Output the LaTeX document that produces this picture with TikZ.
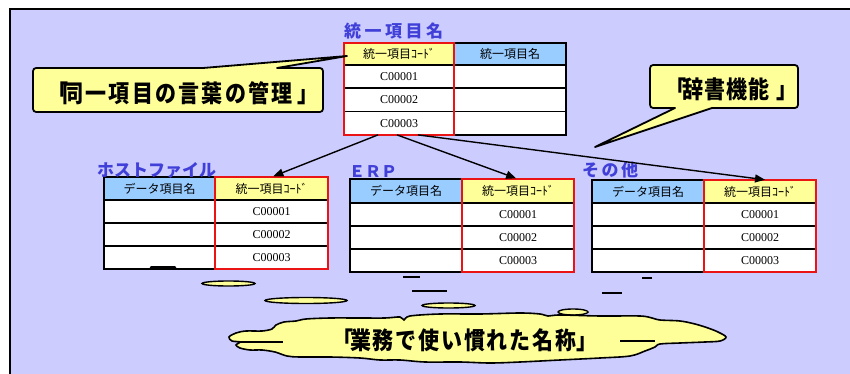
\documentclass[tikz,border=0pt]{standalone}
\usepackage{fontspec}
\newfontfamily\cjk{Noto Sans CJK JP}
\newfontfamily\codefont{Liberation Serif}
\usetikzlibrary{arrows.meta}
\definecolor{bgc}{RGB}{204,204,255}
\definecolor{hyel}{RGB}{255,255,153}
\definecolor{hblue}{RGB}{153,204,255}
\definecolor{lblue}{RGB}{64,64,216}
\definecolor{rbox}{RGB}{235,20,20}
\makeatletter
\def\spaceout#1#2{\def\sp@k{\kern#1}\spaceout@#2\relax}
\def\spaceout@#1{\ifx\relax#1\else#1\sp@k\expandafter\spaceout@\fi}
\makeatother
\tikzset{
 cell/.style={draw=black, line width=1.6pt, inner sep=0pt, outer sep=0pt, anchor=north west, font=\cjk\fontsize{12}{12}\selectfont},
 codecell/.style={cell, fill=white, font=\codefont\fontsize{12}{12}\selectfont},
 redbox/.style={draw=rbox, line width=2.2pt},
 arr/.style={line width=1.4pt, -{Triangle[length=10pt,width=8pt]}, shorten >=2pt},
 tlabel/.style={text=lblue, inner sep=0pt, anchor=base west},
 callout/.style={fill=hyel, draw=black, line width=1.8pt, line join=round},
 ctext/.style={font=\cjk\bfseries\fontsize{21}{21}\selectfont, inner sep=0pt, anchor=west},
 bub/.style={fill=hyel, draw=black, line width=1.4pt},
 blot/.style={draw=black, line width=1.5pt},
}
\newcommand\codeleft[7]{%
 \node[cell, fill=hyel, minimum width=#4, minimum height=#6] (#1-hl) at (#2,#3) {統一項目ｺｰﾄﾞ};
 \node[cell, fill=hblue, minimum width=#5, minimum height=#6] (#1-hr) at (#2+#4,#3) {統一項目名};
 \foreach \i in {1,2,3}{
  \node[codecell, minimum width=#4, minimum height=#7] (#1-l\i) at (#2, #3+#6+\i*#7-#7) {C0000\i};
  \node[cell, fill=white, minimum width=#5, minimum height=#7] (#1-r\i) at (#2+#4, #3+#6+\i*#7-#7) {};
 }
 \draw[redbox] (#1-hl.north west) rectangle (#1-l3.south east);
}
\newcommand\coderight[7]{%
 \node[cell, fill=hblue, minimum width=#4, minimum height=#6] (#1-hl) at (#2,#3) {データ項目名};
 \node[cell, fill=hyel, minimum width=#5, minimum height=#6] (#1-hr) at (#2+#4,#3) {統一項目ｺｰﾄﾞ};
 \foreach \i in {1,2,3}{
  \node[cell, fill=white, minimum width=#4, minimum height=#7] (#1-l\i) at (#2, #3+#6+\i*#7-#7) {};
  \node[codecell, minimum width=#5, minimum height=#7] (#1-r\i) at (#2+#4, #3+#6+\i*#7-#7) {C0000\i};
 }
 \draw[redbox] (#1-hr.north west) rectangle (#1-r3.south east);
}
\begin{document}
\begin{tikzpicture}[x=1pt,y=-1pt]
\useasboundingbox (0,0) rectangle (850,374);
% background panel
\fill[bgc] (10,9) rectangle (856,380);
\draw[line width=2pt] (10,380) -- (10,9) -- (856,9);
% thought bubbles and blots
\filldraw[bub] (228.5,283.5) ellipse [x radius=26.5, y radius=2.5];
\filldraw[bub] (306,300.5) ellipse [x radius=41, y radius=3];
\filldraw[bub] (448.5,305.5) ellipse [x radius=26.5, y radius=2.5];
\filldraw[bub] (573,312) ellipse [x radius=15, y radius=3];
\draw[blot] (403,277) -- (420,277);
\draw[blot, line width=2.5pt] (412,291) -- (447,291);
\draw[blot] (602,293) -- (622,293);
\draw[blot] (642,278) -- (652,278);
% cloud
\filldraw[fill=hyel, draw=black, line width=1.6pt] plot[smooth cycle, tension=0.55] coordinates {
 (229,337) (236,333) (246,331) (262,331) (272,329) (276,325) (284,322) (296,321) (306,319) (330,318)
 (360,318) (385,318) (400,317) (404,320) (410,316) (440,314) (480,314) (520,313) (540,314) (548,316)
 (560,315) (600,316) (640,316) (652,318) (660,320) (680,321) (695,324) (708,328) (718,332) (726,337)
 (720,341) (705,342) (680,343) (660,344) (655,347) (645,351) (630,356) (600,358) (560,360) (520,362)
 (490,363) (460,362) (425,362) (400,360) (380,360) (360,358) (330,357) (300,357) (287,356) (275,352)
 (262,350) (250,350) (240,348) (236,345) (240,342) (232,341)};
\draw[blot] (240,342) -- (283,342);
\draw[blot] (620,341) -- (655,341);
\node[ctext] (cloudtext) at (332,340.5) {\scalebox{1}[1.15]{「\kern-3pt\spaceout{1.8pt}{業務で使い慣れた名称}\kern-2pt 」}};
% tables
\codeleft{top}{344}{43}{110}{112}{22}{23.3}
\coderight{host}{104}{177}{111}{113}{23}{23}
\coderight{erp}{350}{179}{112}{112}{24}{23}
\coderight{oth}{592}{180}{112}{112}{23}{23}
\draw[blot, line width=2.5pt, line cap=round] (151,267.5) -- (175,267.5);
% labels
\node[tlabel, font=\cjk\bfseries\fontsize{17}{17}\selectfont] (toplabel) at (344,38) {\spaceout{3.5pt}{統一項目名}};
\node[tlabel, font=\cjk\bfseries\fontsize{17}{17}\selectfont] (hostlabel) at (97,176) {ホストファイル};
\node[tlabel, font=\cjk\bfseries\fontsize{16}{16}\selectfont] (erplabel) at (349,177) {ＥＲＰ};
\node[tlabel, font=\cjk\bfseries\fontsize{17}{17}\selectfont] (othlabel) at (582,176) {\spaceout{2.5pt}{その他}};
% arrows
\draw[arr] ([xshift=-21pt]top-l3.south) -- (host-hr.north);
\draw[arr] ([xshift=-2pt]top-l3.south) -- (erp-hr.north);
\draw[arr] ([xshift=19pt]top-l3.south) -- ([xshift=7pt]oth-hr.north);
% callout 1
\coordinate (c1tip) at (347,56);
\filldraw[callout] (203,68) -- (c1tip) -- (277,68) -- (316,68) .. controls (323,68) .. (323,75)
 -- (323,105) .. controls (323,112) .. (316,112) -- (40,112) .. controls (33,112) .. (33,105)
 -- (33,75) .. controls (33,68) .. (40,68) -- cycle;
\node[ctext] (c1text) at (47.5,93.5) {\scalebox{1}[1.15]{「\kern-6.5pt\spaceout{2.3pt}{同一項目の言葉の管理}\kern2.7pt 」}};
% callout 2
\coordinate (c2tip) at (595,147);
\filldraw[callout] (657,65) -- (791,65) .. controls (798,65) .. (798,72) -- (798,101)
 .. controls (798,108) .. (791,108) -- (712,108) -- (c2tip) -- (675,108) -- (657,108)
 .. controls (650,108) .. (650,101) -- (650,72) .. controls (650,65) .. (657,65) -- cycle;
\node[ctext] (c2text) at (665.5,89) {\scalebox{1}[1.15]{「\kern-4.5pt\spaceout{1pt}{辞書機能}\kern6pt 」}};
\end{tikzpicture}
\end{document}
